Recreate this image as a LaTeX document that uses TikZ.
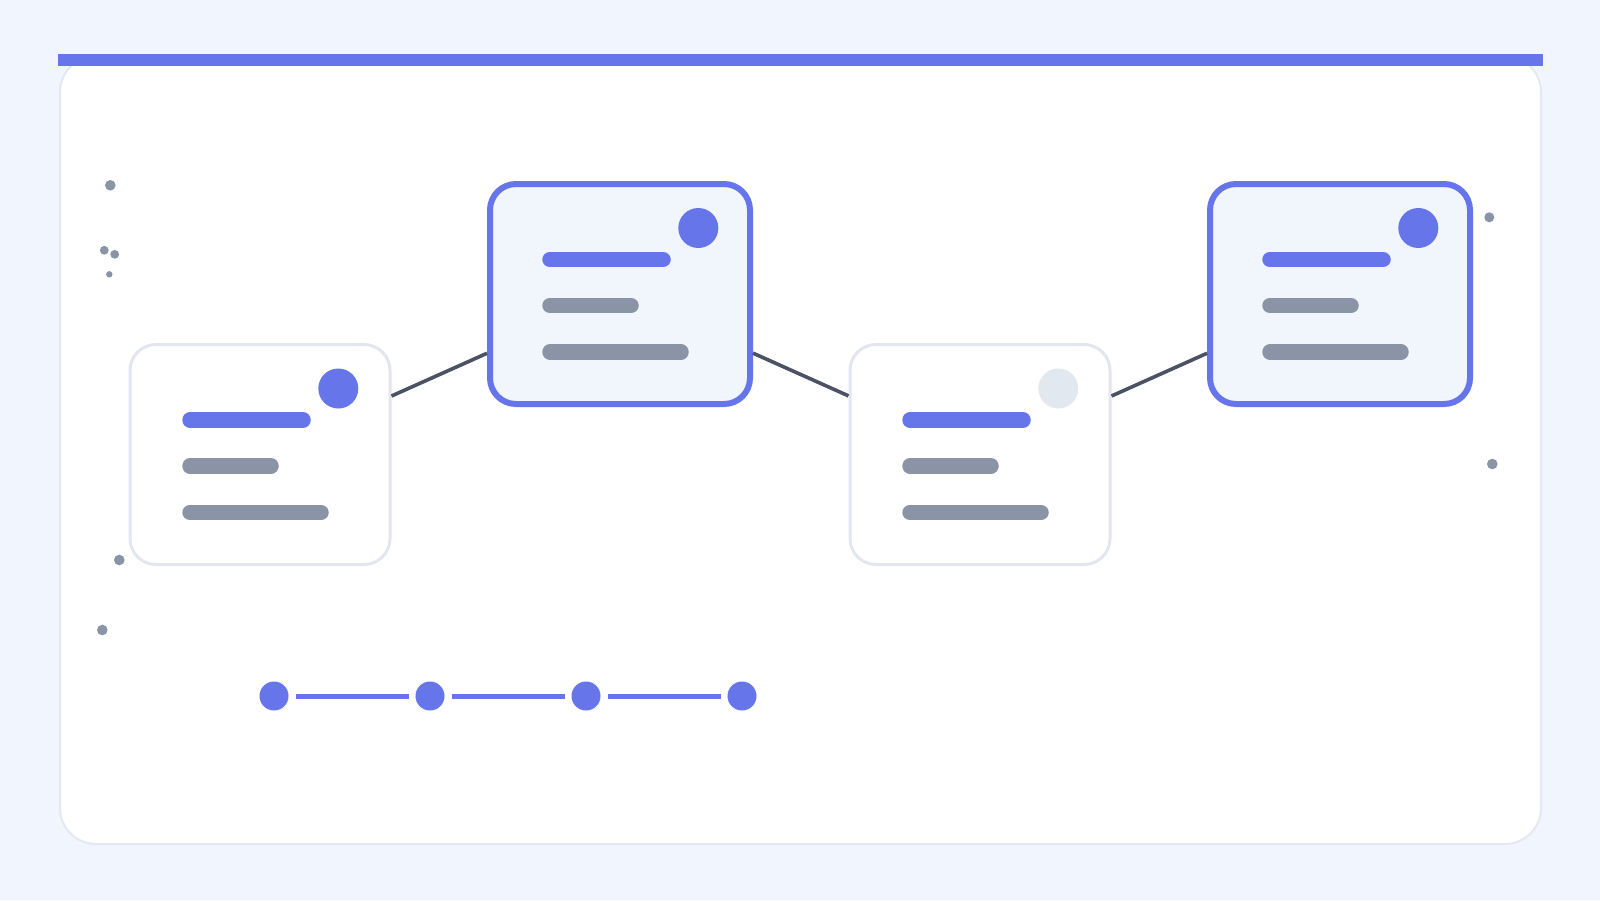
\documentclass[tikz,border=0pt]{standalone}
\usetikzlibrary{calc}
\definecolor{bgc}{HTML}{F1F5FD}
\definecolor{accent}{HTML}{6775EA}
\definecolor{barGray}{HTML}{8A94A6}
\definecolor{cardLine}{HTML}{E2E6EE}
\definecolor{panelLine}{HTML}{E4E8F0}
\definecolor{connC}{HTML}{4B5263}
\definecolor{softDot}{HTML}{E2E8F0}
\definecolor{hiFill}{HTML}{F1F5FC}
\tikzset{
  card/.style={rectangle, rounded corners=26pt, minimum width=260pt, minimum height=220pt, inner sep=0pt},
  plaincard/.style={card, draw=cardLine, line width=3pt, fill=white},
  hicard/.style={card, draw=accent, line width=6pt, fill=hiFill},
  conn/.style={draw=connC, line width=3.6pt},
  barline/.style={line width=15.5pt, line cap=round},
  tdot/.style={circle, fill=accent, minimum size=29pt, inner sep=0pt, outer sep=0pt},
  tline/.style={draw=accent, line width=5pt, shorten <=7pt, shorten >=7pt},
  speck/.style={fill=barGray}
}
\newcommand{\cardinner}[2]{%
  \begin{scope}[shift={(#1.center)}]
    \draw[barline, accent] (-70,-34.5) -- (43,-34.5);
    \draw[barline, barGray] (-70,11.5) -- (11,11.5);
    \draw[barline, barGray] (-70,58) -- (61,58);
    \fill[#2] (78.3,-66) circle (20);
  \end{scope}}
\begin{document}
\begin{tikzpicture}[x=1pt,y=-1pt]
  \useasboundingbox[fill=bgc] (0,0) rectangle (1600,900);
  % panel
  \draw[fill=white, draw=panelLine, line width=2pt, rounded corners=36pt] (60,56) rectangle (1541,844);
  \fill[accent] (58,54) rectangle (1543,66);
  % cards
  \node[plaincard] (c1) at (260,454.5) {};
  \node[hicard] (c2) at (620,294) {};
  \node[plaincard] (c3) at (980,454.5) {};
  \node[hicard] (c4) at (1340,294) {};
  \draw[conn] (c1) -- (c2);
  \draw[conn] (c2) -- (c3);
  \draw[conn] (c3) -- (c4);
  \cardinner{c1}{accent}
  \cardinner{c2}{accent}
  \cardinner{c3}{softDot}
  \cardinner{c4}{accent}
  % timeline
  \node[tdot] (t1) at (274,696) {};
  \node[tdot] (t2) at (430,696) {};
  \node[tdot] (t3) at (586,696) {};
  \node[tdot] (t4) at (742,696) {};
  \draw[tline] (t1) -- (t2);
  \draw[tline] (t2) -- (t3);
  \draw[tline] (t3) -- (t4);
  % specks
  \fill[speck] (110.3,185.3) circle (5.3);
  \fill[speck] (104.3,250.3) circle (4.4);
  \fill[speck] (114.7,254.3) circle (4.4);
  \fill[speck] (109.3,274.3) circle (3.2);
  \fill[speck] (119.3,560) circle (5.3);
  \fill[speck] (102.3,630) circle (5.3);
  \fill[speck] (1489.3,217.3) circle (5);
  \fill[speck] (1492.3,464) circle (5.3);
\end{tikzpicture}
\end{document}
